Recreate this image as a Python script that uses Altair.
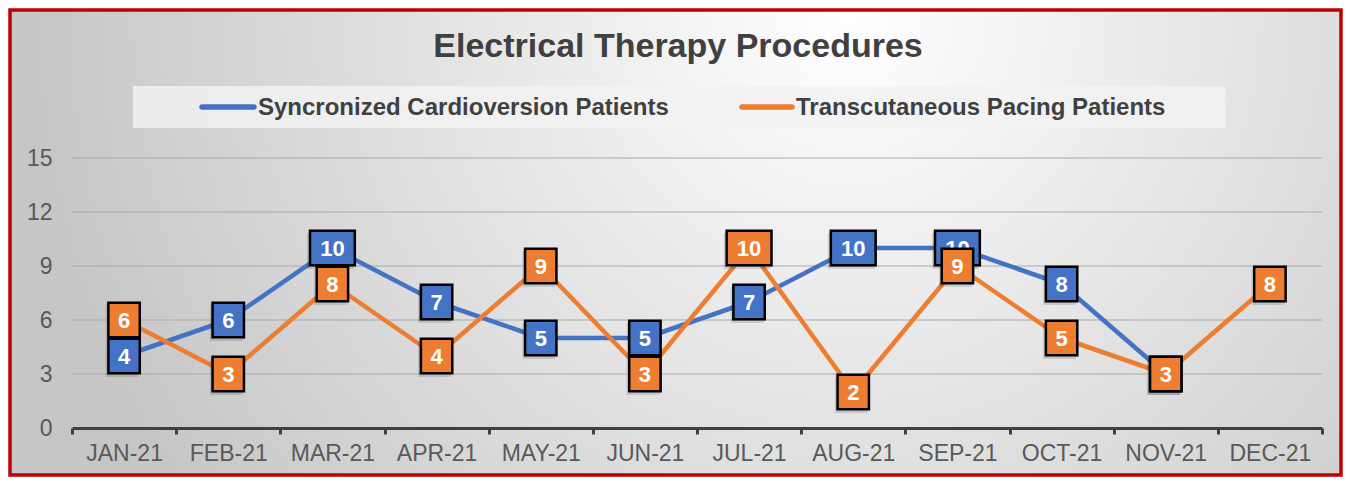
import altair as alt
import pandas as pd

months = ["JAN-21", "FEB-21", "MAR-21", "APR-21", "MAY-21", "JUN-21",
          "JUL-21", "AUG-21", "SEP-21", "OCT-21", "NOV-21", "DEC-21"]
series = ["Syncronized Cardioversion Patients", "Transcutaneous Pacing Patients"]
cardioversion = [4, 6, 10, 7, 5, 5, 7, 10, 10, 8, 3, None]
pacing = [6, 3, 8, 4, 9, 3, 10, 2, 9, 5, 3, 8]
colors = ["#4472C4", "#ED7D31"]
y_ticks = [0, 3, 6, 9, 12, 15]
title_text = "Electrical Therapy Procedures"

FONT = "Liberation Sans"
W, H = 1250, 270

rows = []
for s, vals in zip(series, [cardioversion, pacing]):
    for i, (m, v) in enumerate(zip(months, vals)):
        rows.append({"month": m, "idx": i, "series": s, "value": v,
                     "label": "" if v is None else str(int(v))})
df = pd.DataFrame(rows)
df["box"] = df["label"].map(
    lambda t: "M-1.3,-1H1.3V1H-1.3Z" if len(t) > 1 else "M-0.91,-1H0.91V1H-0.91Z")

xscale = alt.Scale(domain=months, paddingInner=0, paddingOuter=0)
yscale = alt.Scale(domain=[0, 15], nice=False, zero=True)
xaxis = alt.Axis(title=None, labelAngle=0, labelFont=FONT, labelFontSize=23,
                 labelColor="#595959", labelPadding=8, domainColor="#404040",
                 domainWidth=3, tickColor="#404040", tickWidth=3, tickSize=6,
                 tickBand="extent", grid=False, zindex=1)
yaxis = alt.Axis(title=None, values=y_ticks, labelFont=FONT, labelFontSize=23,
                 labelColor="#595959", labelPadding=20, ticks=False, tickSize=0,
                 domain=False, grid=False, zindex=1)
X = alt.X("month:N", scale=xscale, axis=xaxis, sort=months)
Y = alt.Y("value:Q", scale=yscale, axis=yaxis)
color = alt.Color("series:N", scale=alt.Scale(domain=series, range=colors), legend=None)

one = pd.DataFrame({"a": [0]})

bg = alt.Chart(one).mark_rect(
    fill=alt.RadialGradient(
        gradient="radial", x1=0.63, y1=0.33, x2=0.63, y2=0.33, r1=0, r2=0.62,
        stops=[alt.GradientStop(color="#ffffff", offset=0),
               alt.GradientStop(color="#f4f4f4", offset=0.2),
               alt.GradientStop(color="#c6c6c6", offset=1)]),
    stroke="#C00000", strokeWidth=3.5
).encode(x=alt.value(-62), x2=alt.value(1269), y=alt.value(-148), y2=alt.value(317))

legend_box = alt.Chart(one).mark_rect(fill="#f2f2f2", opacity=0.85).encode(
    x=alt.value(61), x2=alt.value(1153), y=alt.value(-72), y2=alt.value(-30))

title = alt.Chart(one).mark_text(
    text=title_text, font=FONT, fontSize=34, fontWeight="bold", color="#404040",
    align="center", baseline="middle"
).encode(x=alt.value(606), y=alt.value(-111))

leg_sym = [
    alt.Chart(one).mark_rule(color=colors[0], strokeWidth=5.5, strokeCap="round").encode(
        x=alt.value(130), x2=alt.value(182), y=alt.value(-51)),
    alt.Chart(one).mark_rule(color=colors[1], strokeWidth=5.5, strokeCap="round").encode(
        x=alt.value(670), x2=alt.value(720), y=alt.value(-51)),
]
leg_txt = [
    alt.Chart(one).mark_text(text=series[0], font=FONT, fontSize=24, fontWeight="bold",
                             color="#404040", align="left", baseline="middle").encode(
        x=alt.value(186), y=alt.value(-50)),
    alt.Chart(one).mark_text(text=series[1], font=FONT, fontSize=24, fontWeight="bold",
                             color="#404040", align="left", baseline="middle").encode(
        x=alt.value(724), y=alt.value(-50)),
]

grid = alt.Chart(pd.DataFrame({"value": y_ticks[1:]})).mark_rule(
    color="#aaaaaa", strokeWidth=1.2).encode(y=Y)

base = alt.Chart(df)
lines = [
    base.transform_filter(alt.datum.series == s).mark_line(
        strokeWidth=4.5, strokeJoin="round").encode(
        x=X, y=Y, color=color, order="idx:Q")
    for s in series
]

valid = base.transform_filter("isValid(datum.value)")
shadow = valid.mark_point(filled=True, fill="#000000", opacity=0.13, strokeWidth=0,
                          size=1300, xOffset=-2, yOffset=3).encode(
    x=X, y=Y, shape=alt.Shape("box:N", scale=None))

boxes = []
for s in series:
    sub = valid.transform_filter(alt.datum.series == s)
    boxes.append(sub.mark_point(filled=True, opacity=1, stroke="#000000",
                                strokeWidth=2.5, size=1190).encode(
        x=X, y=Y, fill=alt.Fill("series:N", scale=alt.Scale(domain=series, range=colors),
                                legend=None),
        shape=alt.Shape("box:N", scale=None)))
    boxes.append(sub.mark_text(font=FONT, fontSize=22, fontWeight="bold", color="#ffffff",
                               align="center", baseline="middle", dy=1).encode(
        x=X, y=Y, text="label:N"))

chart = alt.layer(bg, legend_box, title, *leg_sym, *leg_txt, grid, *lines, shadow, *boxes).properties(
    width=W, height=H,
    autosize=alt.AutoSizeParams(type="none"),
    padding={"left": 64, "top": 150, "right": 21, "bottom": 49},
).configure_view(stroke=None).configure(background="#ffffff")

chart.save("out.html", embed_options={"renderer": "svg", "actions": False})
